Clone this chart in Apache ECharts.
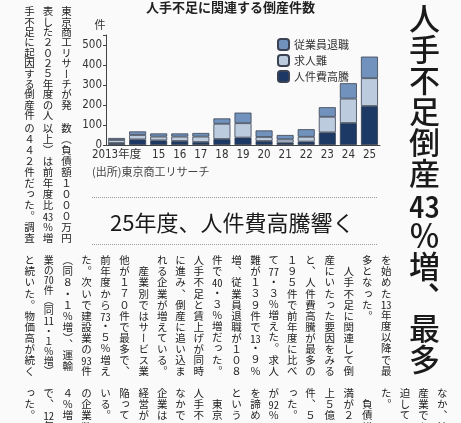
<!DOCTYPE html>
<html><head><meta charset="utf-8">
<script src="https://cdn.jsdelivr.net/npm/echarts@6/dist/echarts.min.js"></script>
<style>
html,body{margin:0;padding:0;width:461px;height:423px;overflow:hidden;background:#fafafa;}
#wrap{position:relative;width:461px;height:423px;overflow:hidden;}
#chart{position:absolute;left:0;top:0;width:461px;height:423px;}
.col{position:absolute;writing-mode:vertical-rl;font-family:"Noto Sans CJK JP",sans-serif;font-size:10.5px;line-height:12px;width:12px;color:#222;white-space:nowrap;}
.t{text-combine-upright:all;letter-spacing:0;}
.head{position:absolute;writing-mode:vertical-rl;font-family:"Noto Sans CJK JP",sans-serif;font-weight:500;font-size:31px;line-height:34px;width:34px;left:407px;top:3px;color:#1a1a1a;white-space:nowrap;}
.sub{position:absolute;left:110px;top:206px;font-family:"Noto Sans CJK JP",sans-serif;font-size:22px;line-height:30px;color:#1a1a1a;white-space:nowrap;}
.dot{position:absolute;left:92px;width:285px;height:0;border-top:1px dotted #9a9a9a;}
</style></head>
<body><div id="wrap"><div id="chart"></div></div>
<script>
// ---- chart data ----
const years = ['2013','2014','2015','2016','2017','2018','2019','2020','2021','2022','2023','2024','2025'];
const xLabels = ['2013年度','','15','16','17','18','19','20','21','22','23','24','25'];
const laborCost = [10,28,23,20,15,30,37,20,12,17,63,110,195];   // 人件費高騰
const hiring    = [15,22,19,22,27,76,72,20,16,24,78,122,139];   // 求人難
const retire    = [10,18,16,16,18,27,53,33,22,38,48,77,108];    // 従業員退職
const yTicks = [0,100,200,300,400,500];

const numFont = '"Liberation Sans Narrow","DejaVu Sans Condensed","Noto Sans CJK JP",sans-serif';
const jpFont = '"Noto Sans CJK JP",sans-serif';
const chart = echarts.init(document.getElementById('chart'), null, {renderer:'canvas'});
const border = {borderColor:'#3b4352', borderWidth:0.8};
chart.setOption({
  animation:false,
  backgroundColor:'transparent',
  textStyle:{fontFamily:jpFont},
  title:{text:'人手不足に関連する倒産件数', left:'center', top:1, padding:0,
    textStyle:{fontSize:13, fontWeight:'bold', color:'#222', fontFamily:jpFont}},
  legend:{orient:'vertical', left:272, top:33, itemWidth:11, itemHeight:11, itemGap:3,
    data:['従業員退職','求人難','人件費高騰'],
    textStyle:{fontSize:11, color:'#333', fontFamily:jpFont}},
  grid:{left:106, right:81, top:35, bottom:278},
  xAxis:{type:'category', data:years,
    axisLine:{lineStyle:{color:'#444', width:1}},
    axisTick:{show:false},
    axisLabel:{interval:0, margin:4, fontSize:11.5, color:'#333', fontFamily:numFont,
      formatter:(v,i)=>xLabels[i]}},
  yAxis:{type:'value', min:0, max:550, interval:100,
    name:'件', nameLocation:'end', nameGap:5,
    nameTextStyle:{fontSize:11, color:'#333', fontFamily:jpFont, padding:[0,12,0,0]},
    axisLine:{show:true, lineStyle:{color:'#444', width:1}},
    axisTick:{show:true, length:3, lineStyle:{color:'#444'}},
    splitLine:{show:false},
    axisLabel:{margin:4, fontSize:11.5, color:'#333', fontFamily:numFont,
      formatter:v=>yTicks.indexOf(v)>=0?String(v):''}},
  series:[
    {name:'人件費高騰', type:'bar', stack:'a', barWidth:17, data:laborCost, itemStyle:Object.assign({color:'#1c3865'},border)},
    {name:'求人難', type:'bar', stack:'a', barWidth:17, data:hiring, itemStyle:Object.assign({color:'#bccbdd'},border)},
    {name:'従業員退職', type:'bar', stack:'a', barWidth:17, data:retire, itemStyle:Object.assign({color:'#7092bd'},border)}
  ],
  graphic:[
    {type:'text', left:92, top:166, style:{text:'(出所)東京商工リサーチ', fontSize:11, fill:'#444', fontFamily:jpFont}}
  ]
});

// ---- article text (vertical columns) ----
const wrap = document.getElementById('wrap');
const FS = 10.5;
function tcy(s){ return s.replace(/\{(\w+)\}/g,'<span class="t">$1</span>'); }
function cells(s){ return s.replace(/\{(\w+)\}/g,'X').length; }
// x = column centre, top = first cell, pitch = cell pitch
function col(x, top, pitch, text){
  const d = document.createElement('div');
  d.className = 'col';
  d.style.left = (x-6)+'px'; d.style.top = top+'px';
  const n = cells(text);
  let fs = FS;
  if (n > 11) { fs = (11*pitch)/n - 0.2; pitch = (11*pitch)/n; }
  d.style.fontSize = fs+'px';
  d.style.letterSpacing = (pitch - fs).toFixed(2)+'px';
  d.innerHTML = tcy(text);
  wrap.appendChild(d);
}
// tier 1 & 2 (left of the chart)
col(66,6,10.4,'東京商工リサーチが発');
col(47.5,6,10.4,'表した２０２５年度の人');
col(29,6,10.4,'手不足に起因する倒産件');
col(66,123,11,'数（負債額１０００万円');
col(47.5,123,11,'以上）は前年度比{43}％増');
col(29,123,11,'の４４２件だった。調査');
// tier 3
const xs3 = [385.7,366.7,348.3,329.3,310,291.7,273.3,255,236,216.7,198.3,180,161.7,143.3,124,105,86,67.3,48.3,29.3];
const t3 = ['を始めた{13}年度以降で最','多となった。','　人手不足に関連して倒','産にいたった要因をみる','と、人件費高騰が最多の',
 '１９５件で前年度に比べ','て{77}・３％増えた。求人','難が１３９件で{13}・９％','増、従業員退職が１０８','件で{40}・３％増だった。',
 '人手不足と賃上げが同時','に進み、倒産に追い込ま','れる企業が増えている。','　産業別ではサービス業','他が１７０件で最多で、',
 '前年度から{73}・５％増え','た。次いで建設業の{93}件','（同８・１％増）、運輸','業の{70}件（同{11}・１％増）','と続いた。物価高が続く'];
t3.forEach((s,i)=>{ col(xs3[i],255,11.1,s); });
// tier 4 (cut off by the bottom edge)
const xs4 = [441.8,423.1,404.4].concat(xs3);
const t4 = ['なか、特','産業でも','迫してい','た。','　負債総','満が２','上５億','件、５','った。','が{92}％','を諦め','という',
 '　東京','人手不','なかで','企業は','経営が','陥って','いる。','の企業数','４％増','で、{12}年','った。'];
t4.forEach((s,i)=>{ col(xs4[i],388,11.1,s); });

// headline & sub headline
const h = document.createElement('div'); h.className='head';
h.innerHTML = '人手不足倒産<span class="t">43</span>％増、最多'; wrap.appendChild(h);
const sb = document.createElement('div'); sb.className='sub';
sb.textContent = '25年度、人件費高騰響く'; wrap.appendChild(sb);
[197,244].forEach(y=>{ const d=document.createElement('div'); d.className='dot'; d.style.top=y+'px'; wrap.appendChild(d); });
</script></body></html>
